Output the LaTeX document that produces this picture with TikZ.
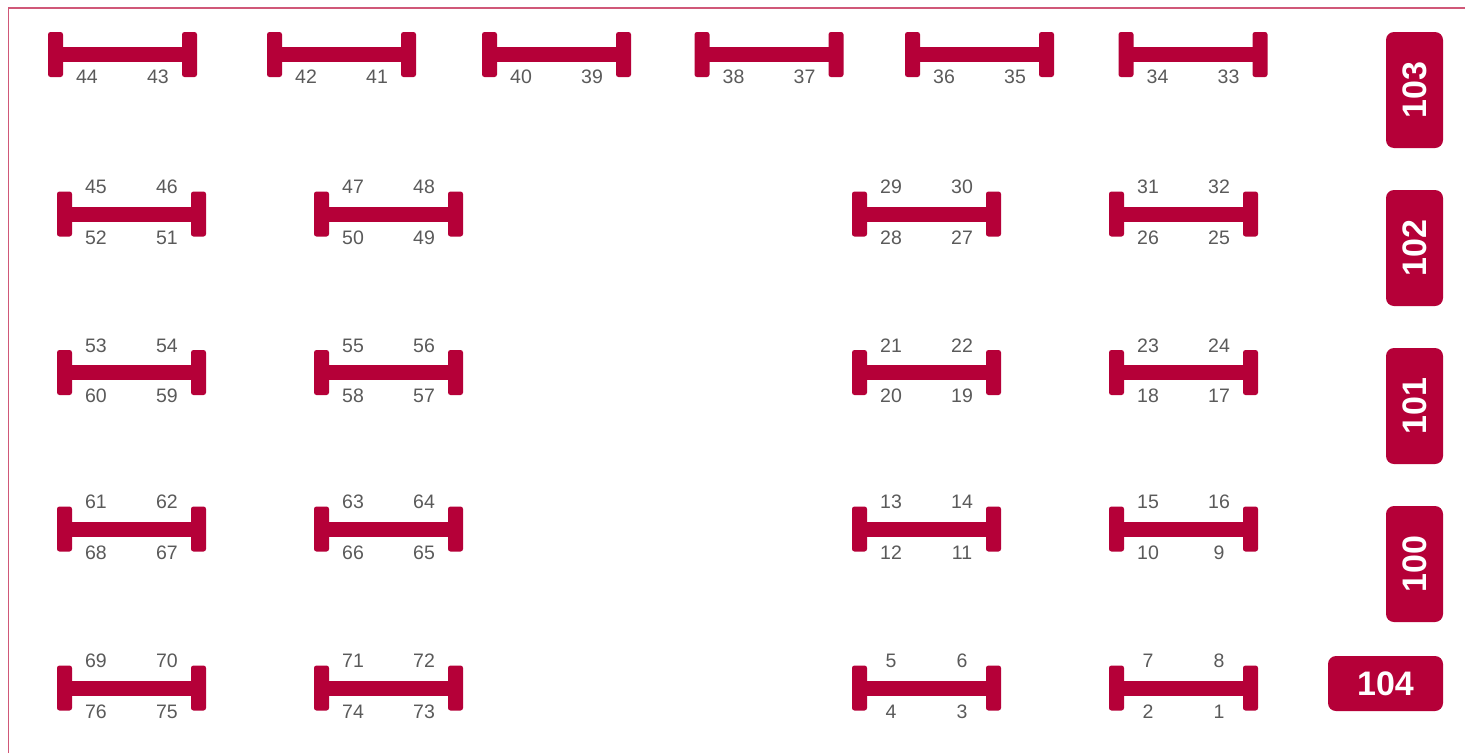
\documentclass[tikz,border=0pt]{standalone}
\usepackage{fontspec}
\setmainfont{Liberation Sans}
\definecolor{crim}{RGB}{181,0,56}
\definecolor{lbl}{RGB}{90,90,90}
\definecolor{framec}{RGB}{208,88,120}
\begin{document}
\begin{tikzpicture}[x=1pt,y=-1pt,
  post/.style={fill=crim, rounded corners=2.5pt},
  lab/.style={text=lbl, font=\fontsize{19.5}{19.5}\selectfont, inner sep=0pt, anchor=center},
  badge/.style={fill=crim, text=white, rounded corners=8pt, font=\bfseries\fontsize{34}{34}\selectfont, inner sep=0pt},
  pics/tbar/.style n args={2}{code={
    \fill[post] (-74.5,-22.5) rectangle (-59.5,22.5);
    \fill[post] (59.5,-22.5) rectangle (74.5,22.5);
    \fill[crim] (-60,-7.5) rectangle (60,7.5);
    \node[lab] (-bl) at (-35.5,22) {#1};
    \node[lab] (-br) at (35.5,22) {#2};
  }},
  pics/dbar/.style n args={4}{code={
    \fill[post] (-74.5,-22.5) rectangle (-59.5,22.5);
    \fill[post] (59.5,-22.5) rectangle (74.5,22.5);
    \fill[crim] (-60,-7.5) rectangle (60,7.5);
    \node[lab] (-tl) at (-35.5,-27) {#1};
    \node[lab] (-tr) at (35.5,-27) {#2};
    \node[lab] (-bl) at (-35.5,23.5) {#3};
    \node[lab] (-br) at (35.5,23.5) {#4};
  }}
]
\useasboundingbox (0,0) rectangle (1465,753);
\fill[white] (0,0) rectangle (1465,753);
\draw[framec, line width=1.5pt] (8.5,753) -- (8.5,8) -- (1465,8);

% top row
\pic (t1) at (122.5,54.5) {tbar={44}{43}};
\pic (t2) at (341.5,54.5) {tbar={42}{41}};
\pic (t3) at (556.5,54.5) {tbar={40}{39}};
\pic (t4) at (769,54.5) {tbar={38}{37}};
\pic (t5) at (979.5,54.5) {tbar={36}{35}};
\pic (t6) at (1193,54.5) {tbar={34}{33}};

% row 2
\pic (r2a) at (131.5,214) {dbar={45}{46}{52}{51}};
\pic (r2b) at (388.5,214) {dbar={47}{48}{50}{49}};
\pic (r2c) at (926.5,214) {dbar={29}{30}{28}{27}};
\pic (r2d) at (1183.5,214) {dbar={31}{32}{26}{25}};
% row 3
\pic (r3a) at (131.5,372.5) {dbar={53}{54}{60}{59}};
\pic (r3b) at (388.5,372.5) {dbar={55}{56}{58}{57}};
\pic (r3c) at (926.5,372.5) {dbar={21}{22}{20}{19}};
\pic (r3d) at (1183.5,372.5) {dbar={23}{24}{18}{17}};
% row 4
\pic (r4a) at (131.5,529) {dbar={61}{62}{68}{67}};
\pic (r4b) at (388.5,529) {dbar={63}{64}{66}{65}};
\pic (r4c) at (926.5,529) {dbar={13}{14}{12}{11}};
\pic (r4d) at (1183.5,529) {dbar={15}{16}{10}{9}};
% row 5
\pic (r5a) at (131.5,688) {dbar={69}{70}{76}{75}};
\pic (r5b) at (388.5,688) {dbar={71}{72}{74}{73}};
\pic (r5c) at (926.5,688) {dbar={5}{6}{4}{3}};
\pic (r5d) at (1183.5,688) {dbar={7}{8}{2}{1}};

% badges
\node[badge, minimum width=57pt, minimum height=116pt] (b103) at (1414.5,90) {\rotatebox{90}{103}};
\node[badge, minimum width=57pt, minimum height=116pt] (b102) at (1414.5,248) {\rotatebox{90}{102}};
\node[badge, minimum width=57pt, minimum height=116pt] (b101) at (1414.5,406) {\rotatebox{90}{101}};
\node[badge, minimum width=57pt, minimum height=116pt] (b100) at (1414.5,564) {\rotatebox{90}{100}};
\node[badge, minimum width=115pt, minimum height=55pt] (b104) at (1385.5,683.5) {104};
\end{tikzpicture}
\end{document}
